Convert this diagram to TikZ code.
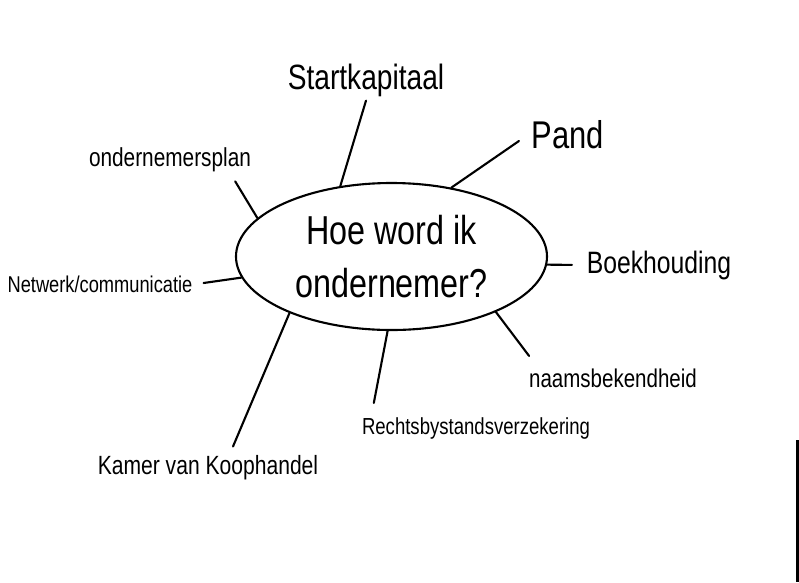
\documentclass[tikz,border=0pt]{standalone}
\usepackage{fontspec}
\newfontfamily\hand[FakeStretch=0.8]{Liberation Sans}
\usetikzlibrary{shapes.geometric}

\tikzset{
  lbl/.style={font=\hand\fontsize{#1}{#1}\selectfont, inner sep=1pt},
  tak/.style={semithick, line cap=round}
}

\begin{document}
\begin{tikzpicture}
    \useasboundingbox (0,0) rectangle (7.99,5.82);
    % centrale vraag
    \node[draw, semithick, ellipse, minimum width=3.11cm, minimum height=1.47cm, inner sep=0pt,
          align=center, font=\hand\fontsize{11.5}{15}\selectfont] (hub) at (3.915,3.255)
          {Hoe word ik\\ondernemer?};
    % takken
    \node[lbl=10] (stk) at (3.66,5.02) {Startkapitaal};
    \node[lbl=11] (pand) at (5.68,4.47) {Pand};
    \node[lbl=8.8] (bk) at (6.59,3.17) {Boekhouding};
    \node[lbl=7.3] (nb) at (6.13,2.04) {naamsbekendheid};
    \node[lbl=6.6] (rb) at (4.76,1.54) {Rechtsbystandsverzekering};
    \node[lbl=7.5] (kvk) at (2.08,1.14) {Kamer van Koophandel};
    \node[lbl=6.5] (nw) at (1.00,2.98) {Netwerk/communicatie};
    \node[lbl=7.4] (op) at (1.70,4.22) {ondernemersplan};
    % lijnen
    \draw[tak] (hub.126) -- (stk.south);
    \draw[tak, shorten >=3pt] (hub.49) -- (pand.west);
    \draw[tak, shorten >=3pt] (hub.-3) -- (bk.west);
    \draw[tak, shorten >=3pt] (hub.-28) -- ([xshift=3pt]nb.north west);
    \draw[tak] (hub.-93) -- ([xshift=0.16cm,yshift=0.1cm]rb.north west);
    \draw[tak] (hub.-151) -- ([xshift=0.25cm,yshift=0.05cm]kvk.north);
    \draw[tak, shorten >=2pt] (hub.188) -- (nw.east);
    \draw[tak] (hub.164) -- ([xshift=-0.2cm,yshift=-0.05cm]op.south east);
    % rand van de scan
    \fill (7.96,0) rectangle (7.99,1.42);
\end{tikzpicture}
\end{document}
